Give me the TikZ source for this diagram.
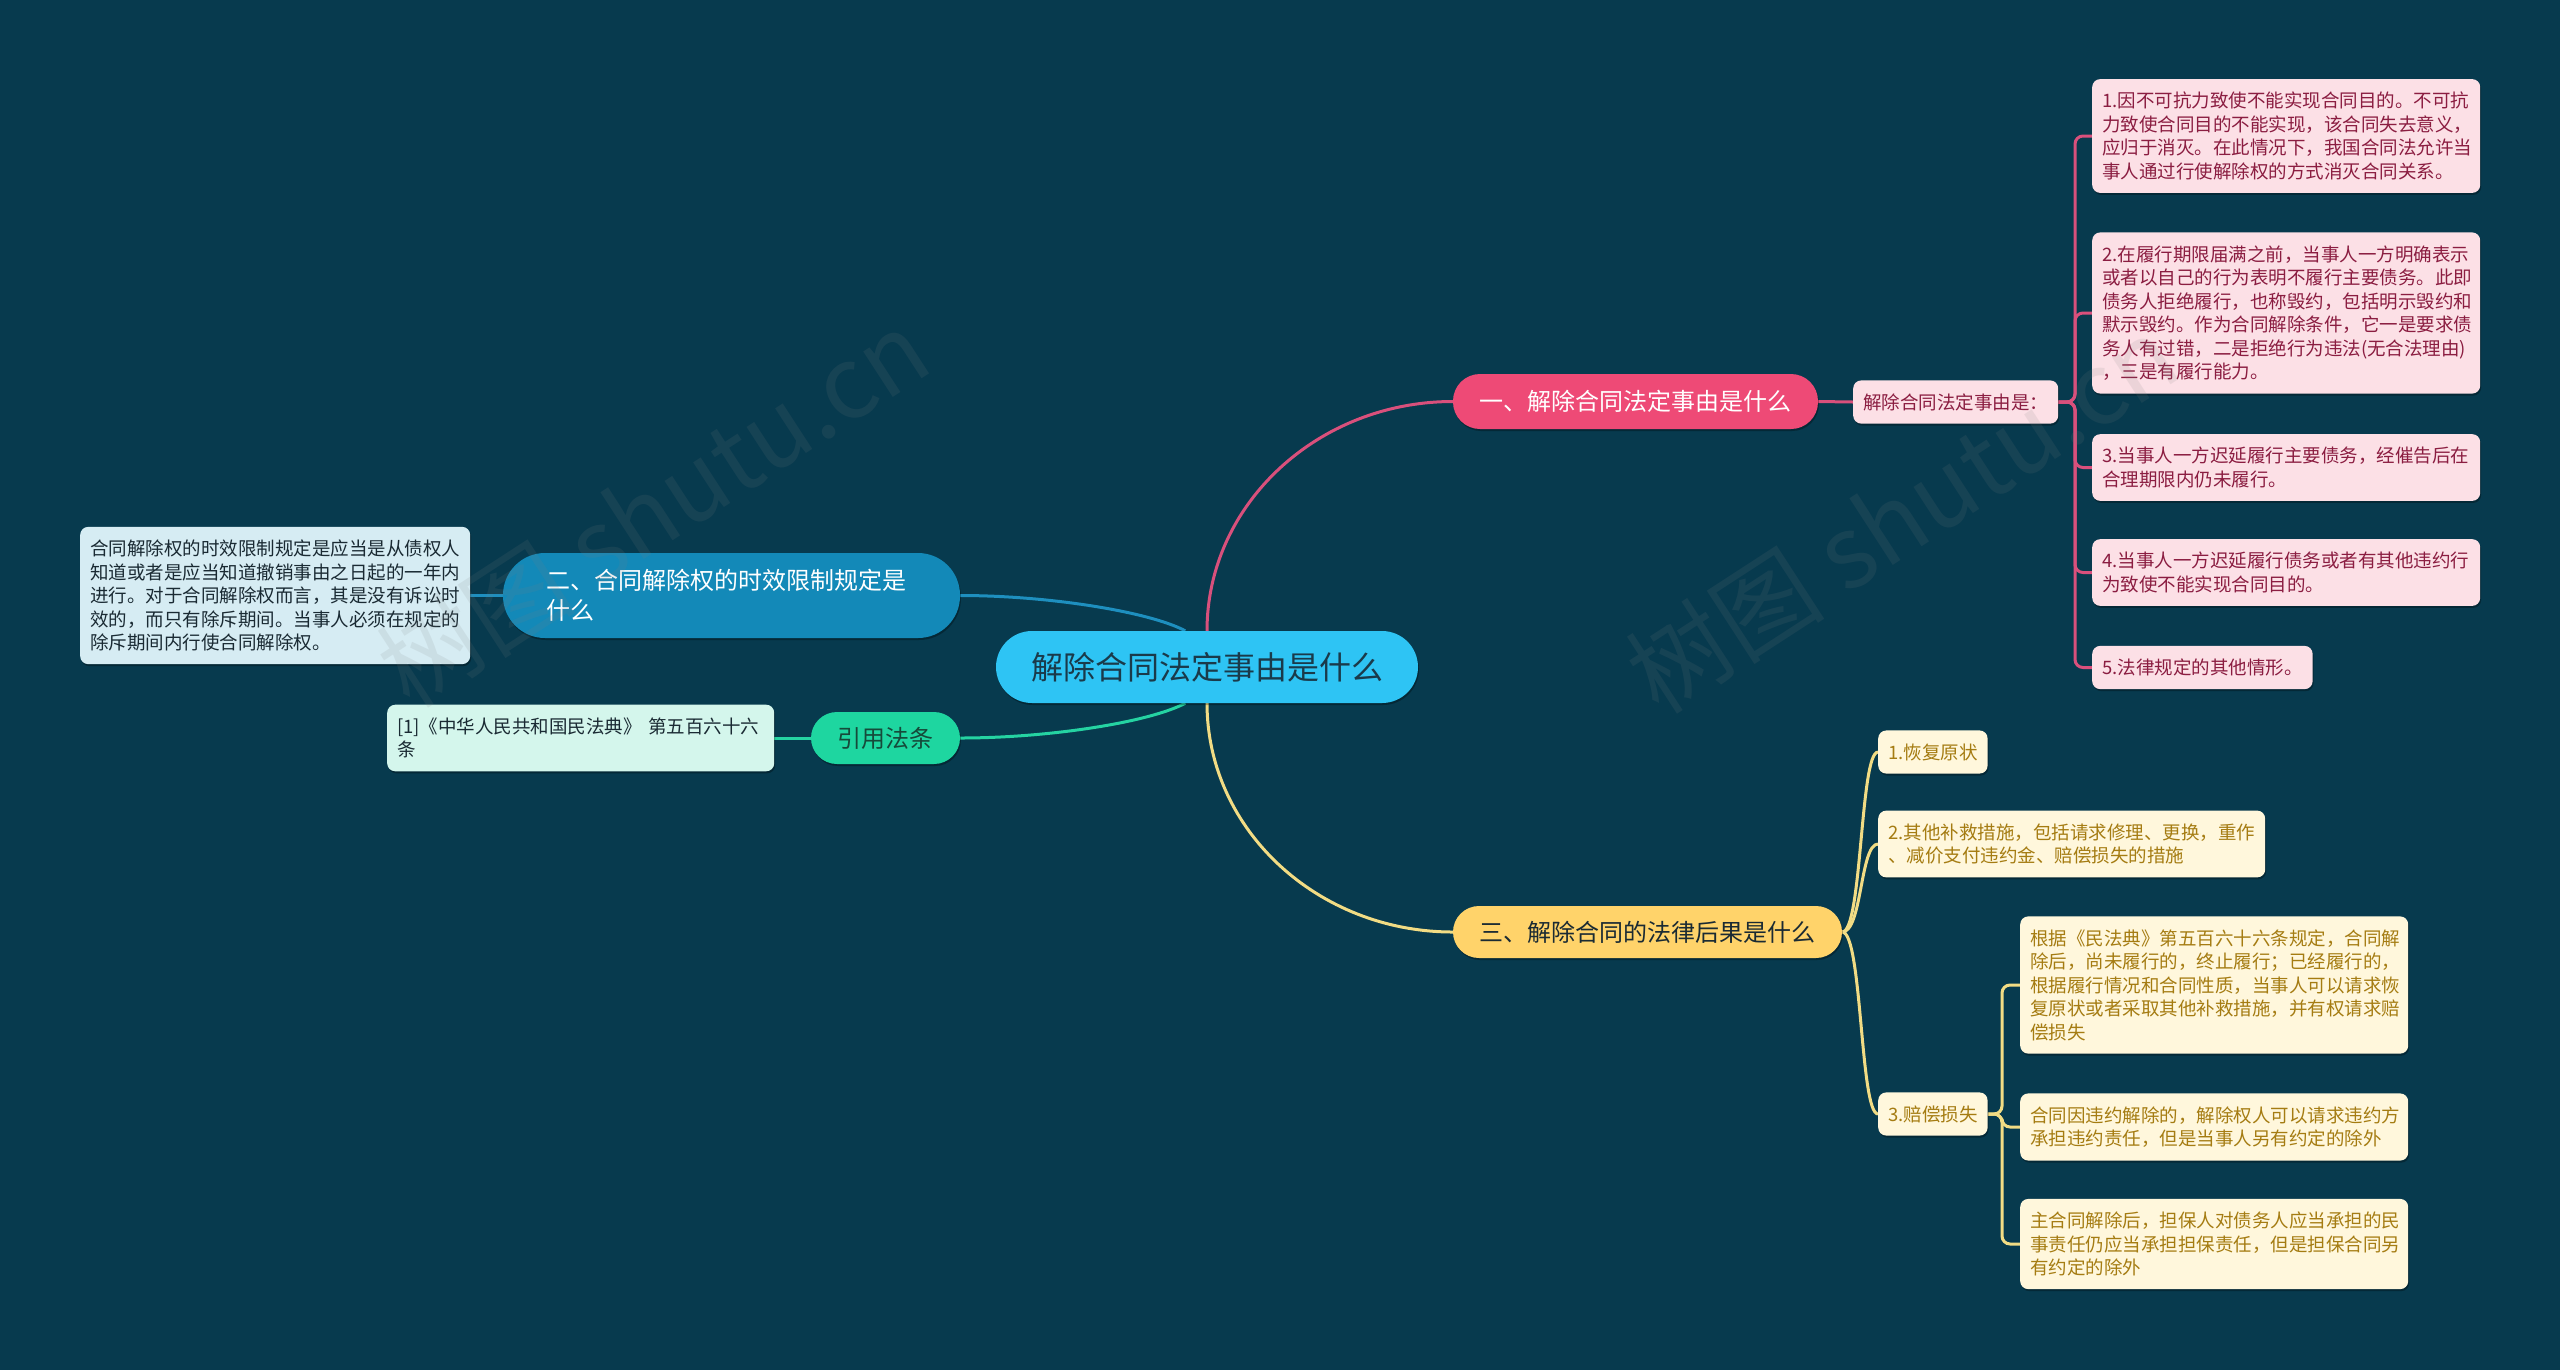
\documentclass[tikz,border=0pt]{standalone}
\usepackage{fontspec}
\setmainfont{Noto Sans CJK SC}
\usetikzlibrary{shadows,backgrounds}
\definecolor{bg}{HTML}{073A4E}
\definecolor{cfill}{HTML}{2EC4F4}
\definecolor{ctext}{HTML}{1A3A4A}
\definecolor{pmain}{HTML}{EE4A76}
\definecolor{pline}{HTML}{D9507C}
\definecolor{pleaf}{HTML}{FCE0E6}
\definecolor{ptext}{HTML}{8B1D41}
\definecolor{bmain}{HTML}{1389B8}
\definecolor{bline}{HTML}{1E8FBF}
\definecolor{bleaf}{HTML}{D6ECF3}
\definecolor{gmain}{HTML}{1ED6A0}
\definecolor{gline}{HTML}{25D3A2}
\definecolor{gleaf}{HTML}{D4F6EC}
\definecolor{gtext}{HTML}{164A3A}
\definecolor{ymain}{HTML}{FFD36A}
\definecolor{yline}{HTML}{F2DC84}
\definecolor{yleaf}{HTML}{FFF7DC}
\definecolor{ytext}{HTML}{A57C12}
\definecolor{dtext}{HTML}{1A2A33}
\begin{document}
\begin{tikzpicture}[x=1pt,y=-1pt,
  shad/.style={drop shadow={shadow xshift=1pt,shadow yshift=-2pt,opacity=0.3,fill=black}},
  pill/.style={rounded corners=#1,inner sep=0pt,align=center,shad},
  mainfont/.style={font=\fontsize{24}{30}\selectfont},
  leaf/.style={rounded corners=8pt,inner xsep=10pt,inner ysep=13pt,align=left,anchor=west,
    font=\fontsize{18.5}{23.5}\selectfont,shad},
  conn/.style={line width=3pt},
  wm/.style={font=\fontsize{100}{100}\selectfont,text=gray,opacity=0.13,rotate=33}]
\useasboundingbox (0,0) rectangle (2560,1369);
\begin{pgfonlayer}{background}
\fill[bg] (-10,-10) rectangle (2570,1380);
\end{pgfonlayer}

% central
\node[pill=36pt,fill=cfill,text=ctext,minimum width=422pt,minimum height=72pt,
  font=\fontsize{32}{38}\selectfont] (c) at (1207,667) {解除合同法定事由是什么};

% main branches
\node[pill=27pt,fill=pmain,text=white,mainfont,minimum width=365pt,minimum height=55pt]
  (n1) at (1635.5,401.5) {一、解除合同法定事由是什么};
\node[pill=42pt,fill=bmain,text=white,mainfont,minimum width=457pt,minimum height=85pt,
  text width=370pt,align=left] (n2) at (731.5,595.5) {二、合同解除权的时效限制规定是\\什么};
\node[pill=26pt,fill=gmain,text=gtext,mainfont,minimum width=149pt,minimum height=52pt]
  (n4) at (885.5,738) {引用法条};
\node[pill=26pt,fill=ymain,text=dtext,mainfont,minimum width=389pt,minimum height=52pt]
  (n3) at (1647.5,932) {三、解除合同的法律后果是什么};

% pink subtree
\node[leaf,fill=pleaf,text=ptext] (s1) at (1853,402) {解除合同法定事由是：};
\node[leaf,fill=pleaf,text=ptext,text width=368pt] (L1) at (2092,136) {1.因不可抗力致使不能实现合同目的。不可抗\\力致使合同目的不能实现，该合同失去意义，\\应归于消灭。在此情况下，我国合同法允许当\\事人通过行使解除权的方式消灭合同关系。};
\node[leaf,fill=pleaf,text=ptext,text width=368pt] (L2) at (2092,313) {2.在履行期限届满之前，当事人一方明确表示\\或者以自己的行为表明不履行主要债务。此即\\债务人拒绝履行，也称毁约，包括明示毁约和\\默示毁约。作为合同解除条件，它一是要求债\\务人有过错，二是拒绝行为违法(无合法理由)\\，三是有履行能力。};
\node[leaf,fill=pleaf,text=ptext,text width=368pt] (L3) at (2092,467.5) {3.当事人一方迟延履行主要债务，经催告后在\\合理期限内仍未履行。};
\node[leaf,fill=pleaf,text=ptext,text width=368pt] (L4) at (2092,572.5) {4.当事人一方迟延履行债务或者有其他违约行\\为致使不能实现合同目的。};
\node[leaf,fill=pleaf,text=ptext] (L5) at (2092,667.5) {5.法律规定的其他情形。};

% blue and green leaves
\node[leaf,fill=bleaf,text=dtext,text width=370pt] (lb) at (80,595.5) {合同解除权的时效限制规定是应当是从债权人\\知道或者是应当知道撤销事由之日起的一年内\\进行。对于合同解除权而言，其是没有诉讼时\\效的，而只有除斥期间。当事人必须在规定的\\除斥期间内行使合同解除权。};
\node[leaf,fill=gleaf,text=dtext,text width=367pt] (cit) at (387,738) {[1]《中华人民共和国民法典》 第五百六十六\\条};

% yellow subtree
\node[leaf,fill=yleaf,text=ytext] (y1) at (1878,752) {1.恢复原状};
\node[leaf,fill=yleaf,text=ytext,text width=367pt] (y2) at (1878,844) {2.其他补救措施，包括请求修理、更换，重作\\、减价支付违约金、赔偿损失的措施};
\node[leaf,fill=yleaf,text=ytext] (y3) at (1878,1114) {3.赔偿损失};
\node[leaf,fill=yleaf,text=ytext,text width=368pt] (y3a) at (2020,985) {根据《民法典》第五百六十六条规定，合同解\\除后，尚未履行的，终止履行；已经履行的，\\根据履行情况和合同性质，当事人可以请求恢\\复原状或者采取其他补救措施，并有权请求赔\\偿损失};
\node[leaf,fill=yleaf,text=ytext,text width=368pt] (y3b) at (2020,1127) {合同因违约解除的，解除权人可以请求违约方\\承担违约责任，但是当事人另有约定的除外};
\node[leaf,fill=yleaf,text=ytext,text width=368pt] (y3c) at (2020,1244) {主合同解除后，担保人对债务人应当承担的民\\事责任仍应当承担担保责任，但是担保合同另\\有约定的除外};

% connectors
\begin{pgfonlayer}{background}
\draw[conn,pline] (c.north) .. controls (1207,504) and (1318,401.5) .. (n1.west);
\draw[conn,yline] (c.south) .. controls (1207,830) and (1318,932) .. (n3.west);
\draw[conn,bline] (c.121) .. controls (1150,612) and (1050,595.5) .. (n2.east);
\draw[conn,gline] (c.239) .. controls (1150,722) and (1050,738) .. (n4.east);
\draw[conn,pline] (n1.east) -- (s1.west);
\draw[conn,bline] (lb.east) -- (n2.west);
\draw[conn,gline] (cit.east) -- (n4.west);
\foreach \t in {L1,L2,L3,L4,L5}
  \draw[conn,pline,rounded corners=8pt] (s1.east) -- (2075,402) |- (\t.west);
\foreach \t in {y1,y2,y3}
  \draw[conn,yline] (n3.east) .. controls +(20,0) and +(-18,0) .. (\t.west);
\foreach \t in {y3a,y3b,y3c}
  \draw[conn,yline,rounded corners=8pt] (y3.east) -- (2002,1114) |- (\t.west);
\end{pgfonlayer}

% watermarks
\node[wm] (wm1) at (653,508) {树图 shutu.cn};
\node[wm] (wm2) at (1902,514) {树图 shutu.cn};
\end{tikzpicture}
\end{document}
